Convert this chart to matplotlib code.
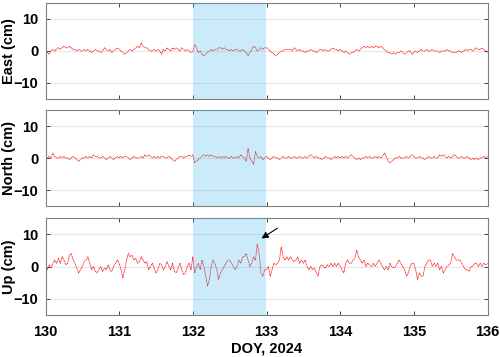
import numpy as np
import matplotlib
matplotlib.use("Agg")
import matplotlib.pyplot as plt

plt.rcParams['font.family'] = ['Liberation Sans', 'DejaVu Sans']

doy_start = 130.0
doy_step = 0.025

east = [
    0, -0.5, -1, 0, 0.5, 0, 0.5, 1, 0.5, 1, 1.5, 1, 1, 1.5, 1, 0.5, 0.5, 0, 0.5, 0,
    0, 0.5, 0, 0.5, 0, -0.5, 0, 0.5, 0, 0, -0.5, 0, 1, 0.5, 0, 0.5, -0.5, 0, 0.5, 1,
    0.5, 0, -0.5, -1, -0.5, 0, 0.5, 0, 0.5, 1, 1.5, 1, 2.5, 1.5, 1, 1, 0.5, 0, 0, 0.5,
    0, 0.5, 0, -1, 0.5, 0, 1, 0.5, 0, 1, 0.5, 1, 0.5, 0, 1, 0.5, 0, 0.5, 0, -0.5,
    0, 2, 1, -0.5, 0, -1, -1.5, -1, -0.5, 0, 0.5, 0, 0.5, 0.5, 1, 1, 0.5, 1, 0.5, 0.5,
    0, 0.5, 0, 0.5, 0.5, 0, 0, 0.5, 0, -0.5, -1.5, -0.5, 0.5, 1.5, 1, 0, 0.5, 1, 0.5, 1,
    1, 0.5, 0, -0.5, -1, -1.5, -1, -0.5, 0, 0, 0.5, 0.5, 0.5, 0.5, 0, 1, 0.5, 0, 0.5, 0,
    0, -0.5, 0, 0, 0.5, 0, 0, -0.5, 0, 0.5, 0.5, 0, 0.5, 0, 0, 0.5, 1, 0.5, 0.5, 0,
    0.5, 0, -0.5, 0, -0.5, -1, -0.5, -0.5, 0, 0.5, 0, 0.5, 1, 1.5, 1, 1.5, 1, 1.5, 1, 1.5,
    1.5, 1, 1.5, 1, 0.5, 0, -0.5, -0.5, -1, -0.5, -1, -0.5, -0.5, 0, -0.5, -1, -0.5, 0, 0, -1,
    -0.5, 0, -0.5, 0, 0.5, 0, 0, 0.5, 0, 0, 0.5, 0, 0, 0, -0.5, 0, 0, 0, 0.5, 0,
    0, -0.5, -0.5, -0.5, 0, 0, -0.5, 0, 0.5, 0, 0.5, 0.5, 0, 0.5, 1, 0.5, 0.5, 1, 0.5, 0,
    -0.5,
]

north = [
    -0.5, 0, 0.5, 0, 1.5, 0.5, 0, 0, 0.5, 0, 0.5, 0, 0, -0.5, 0, 0.5, 0, -0.5, -1, -0.5,
    0, 0, 0.5, 0, 0.5, 0, 1, 0.5, 0.5, 0, 0, 0.5, 0, -0.5, 0, 0.5, 0, -0.5, 0, 0.5,
    0, 0.5, 0, 0.5, 0.5, 0, -0.5, 0, 0.5, 0, 0, 0, 0.5, 0, 1, 0.5, 1, 0.5, 0, 0.5,
    0, 0.5, 0, 0.5, 0.5, 0, 0, 0.5, 0, -0.5, -1, -0.5, 0, 0.5, 0.5, 0, 0.5, 0.5, 1, 0.5,
    1, -1.5, -1, -0.5, 0, 0.5, 1, 0.5, 1, 0.5, 1, 0.5, 0.5, 0, 0.5, 0, 0.5, 0, 0.5, 0,
    0, 0.5, 0, 0, 0.5, 0, 1, 0.5, 0, -1, 3, 0, -1, -2, 2, 0.5, 0, 0.5, -0.5, 0,
    0.5, 0, -0.5, 0, 0.5, 0, 0, -0.5, 0, 0.5, 0, 0, 0.5, 0, 0, 0.5, 0, 0, 0.5, 0,
    0, 0.5, 0, 0.5, 1, 0.5, 0, 0.5, 0, 0, -0.5, 0, 0.5, 0, 0, -0.5, 0, 0.5, 0, 0.5,
    0, 0.5, 0, 0.5, 0, 0.5, 1, 0.5, 0, -0.5, 0, -0.5, 0, 0, 0.5, 0, 0.5, 0, 0, 0.5,
    0, 0.5, 0, 0.5, 1.5, 0.5, -1, -1.5, -1, -0.5, 0, 0, 0.5, 0, 0, 0, 0.5, 0, 0.5, 1,
    0.5, 0, 0, 0.5, 0, 0, -0.5, 0, 0.5, 0, 0, 0.5, 0, 0, 1, 0.5, 1, 0.5, 0, 0.5,
    0, 0.5, 1, 0.5, 0, 0, 0.5, 0, 0, 0.5, 0, -0.5, 0, -0.5, 0, -0.5, 0, 0, 0.5, 0,
    0.5,
]

up = [
    0, -1, 0.5, -0.5, 1, 2, 1, 2.5, 1, 3, 2, 0.5, 1, 3.5, 4, 2, 1, -0.5, -2, -1,
    0, 1.5, 2, 3, 1, -1, 0, -1.5, -2, -1, 0, -1.5, -0.5, -1, 0.5, -1, -1.5, 0, 1, 2,
    1, -1, -3.5, -1, 2, 4, 3, 3.5, 2, 2.5, 1, 1.5, 3, 2, 1, 1.5, -1, 0, 1, -0.5,
    -2, -1, 1, 0.5, -1, 0, 1.5, 0, -1, 1, -1.5, -2, -0.5, 1, -1, -2.5, -2, 0, 1, -1,
    3, -2, 0, 1, -1, 2, 0, -3, -6, -4, 0, 2, 1, -1, -4, -2, -1, 0, 1, 2,
    2, 1, 0, -1, 0, 2, 1, 3, 3, 4, 2, 0, 1, 3, 2, 7, 4, -2, -3, -1,
    -1, 0, -3, -1, 1, 0.5, 1, 2, 6, 3, 2, 3, 2, 3, 2, 1.5, 2, 3, 1, 2,
    1, 2, 0, -1, 0, -1, -0.5, -2, -3, 0, 0.5, 0, -0.5, 0.5, 0, 1, 0, 1, 0, 1,
    0, -1, -2, 1, 2, 1, 1, 2, 2.5, 5, 3, 2, 1, 2, 0, 1, 0.5, 0, 1, 0,
    1, 2, 1, 0, -1, 0, -1, 1, 0, -0.5, 0, 1, 2, 1, 0, -1, -3, -2, 0, 1,
    1, -1, -4, -2, -3, -3, 0, 1, 2, 2, 0, 1, 0, 1, -1, 0, -2, -1, 0, 0.5,
    1, 4, 3, 2, 2, 2, 1, 0, -1, -1, -1.5, 0, 0, 1, 1, 0, 1, 0, 1, 0.5,
    1,
]

ylabels = ['East (cm)', 'North (cm)', 'Up (cm)']
xticks = [130, 131, 132, 133, 134, 135, 136]
yticks = [-10, 0, 10]
event_span = (132, 133)
arrow_tip = (132.9, 8.2)
arrow_tail = (133.18, 12.3)

series = [east, north, up]
doy = doy_start + doy_step * np.arange(len(up))

fig = plt.figure(figsize=(5.0, 3.57), dpi=100)
W, H = 500, 357
ax_left, ax_right = 45.5, 487.5
boxes = [(3, 99), (110, 206), (218, 315)]
axes = []
for (t, b) in boxes:
    ax = fig.add_axes([ax_left / W, 1 - b / H, (ax_right - ax_left) / W, (b - t) / H])
    axes.append(ax)

spine_col = '#262626'
for i, ax in enumerate(axes):
    ax.plot(doy, series[i], color='red', lw=0.55, linestyle=(0, (1.6, 0.7)), zorder=2)
    ax.axvspan(*event_span, facecolor=(0.2, 0.7, 0.93), alpha=0.25, lw=0, zorder=3)
    ax.set_xlim(130, 136)
    ax.set_ylim(-15, 15)
    ax.set_yticks(yticks)
    ax.set_xticks(xticks)
    ax.grid(axis='y', color='#e6e6e6', lw=0.8, zorder=0)
    ax.set_axisbelow(True)
    ax.tick_params(direction='in', top=True, right=True, length=3, width=0.6,
                   color=spine_col, labelsize=10.5)
    ax.tick_params(axis='x', pad=7)
    ax.tick_params(axis='y', pad=5)
    for lab in ax.get_yticklabels() + ax.get_xticklabels():
        lab.set_fontweight('bold')
    for s in ax.spines.values():
        s.set_color('#7f7f7f')
        s.set_linewidth(0.8)
    ax.set_ylabel(ylabels[i], fontsize=10.5, fontweight='bold')
    ax.yaxis.set_label_coords((16.5 - ax_left) / (ax_right - ax_left), 0.5)
    if i < 2:
        ax.set_xticklabels([])

axes[2].set_xlabel('DOY, 2024', fontsize=10.5, fontweight='bold', labelpad=2)
axes[2].annotate('', xy=arrow_tip, xytext=arrow_tail,
                 arrowprops=dict(arrowstyle='-|>', color='black', lw=0.8,
                                 mutation_scale=10), zorder=5)

fig.savefig('out.png', dpi=100)
